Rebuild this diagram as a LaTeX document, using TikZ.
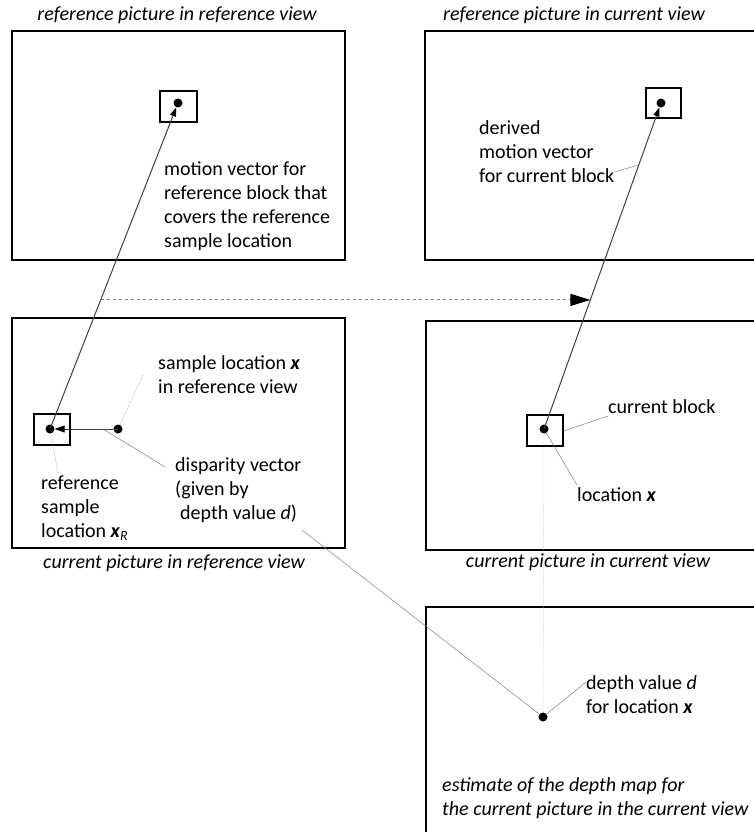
\documentclass[tikz,border=0pt]{standalone}
\usepackage{fontspec}
\setmainfont{Carlito}
\usetikzlibrary{arrows.meta,calc}

\newcommand{\vx}{\textbf{\textit{x}}}

\begin{document}
\begin{tikzpicture}[x=1pt,y=-1pt,font=\fontsize{20}{24}\selectfont]
    \useasboundingbox (0,0) rectangle (753,832);

        % pictures
        \begin{scope}[every node/.style={draw,line width=2pt,inner sep=0pt}]
            \node[minimum width=333,minimum height=229] (refref) at (178.5,145.5) {};
            \node[minimum width=375,minimum height=229] (refcur) at (612.5,145.5) {};
            \node[minimum width=333,minimum height=230] (curref) at (178.5,433) {};
            \node[minimum width=374,minimum height=229] (curcur) at (613,435.5) {};
            \node[minimum width=374,minimum height=293] (depthmap) at (613,753.5) {};
        \end{scope}

        % blocks
        \begin{scope}[every node/.style={draw,line width=1.5pt,inner sep=0pt}]
            \node[minimum width=37,minimum height=31] (refblk) at (178.5,106.5) {};
            \node[minimum width=35,minimum height=30] (derblk) at (663.5,103) {};
            \node[minimum width=36,minimum height=31] (rsblk) at (52,429.5) {};
            \node[minimum width=36,minimum height=31] (curblk) at (545,430.5) {};
        \end{scope}

        % sample locations
        \begin{scope}[every node/.style={circle,fill,inner sep=0pt,minimum size=9}]
            \node (m1) at (178,103) {};
            \node (m2) at (661,103) {};
            \node (xr) at (50,429) {};
            \node (xs) at (118,429) {};
            \node (x) at (544,429) {};
            \node (dd) at (543,717) {};
        \end{scope}

        % captions
        \begin{scope}[every node/.style={font=\fontsize{20}{24}\selectfont\itshape,inner sep=0pt}]
            \node (trr) at (177,15) {reference picture in reference view};
            \node (trc) at (574,15) {reference picture in current view};
            \node (tcr) at (174,563) {current picture in reference view};
            \node (tcc) at (588,562) {current picture in current view};
            \node[anchor=west,align=left] (test) at (442,798) {estimate of the depth map for\\the current picture in the current view};
        \end{scope}

        % labels
        \begin{scope}[every node/.style={anchor=west,align=left,inner sep=0pt}]
            \node (mv) at (164,206) {motion vector for\\reference block that\\covers the reference\\sample location};
            \node (dmv) at (479,152) {derived\\motion vector\\for current block};
            \node (sl) at (158,375) {sample location \vx\\in reference view};
            \node (dv) at (175,490) {disparity vector\\(given by\\\hspace{5pt}depth value \textit{d})};
            \node (rsl) at (41,508) {reference\\sample\\location \vx\textsubscript{\textit{R}}};
            \node (cb) at (608,407) {current block};
            \node (lx) at (577,495) {location \vx};
            \node (dvd) at (586,695) {depth value \textit{d}\\for location \vx};
        \end{scope}

        % vectors
        \begin{scope}[every edge/.style={draw=black!75,line width=1pt}]
            \path [-{Triangle[length=9pt,width=6pt,color=black]}] (xr.center) edge (m1);
            \path [-{Triangle[length=9pt,width=6pt,color=black]}] (x.center) edge (m2);
            \path [-{Triangle[length=10pt,width=7pt,color=black]}] (xs.center) edge (xr);
            \path [-{Triangle[length=20pt,width=12pt,color=black]}] ($(xr)!0.396!(m1)$) edge [draw=gray,dashed] ($(x)!0.396!(m2)$);
        \end{scope}

        % leaders
        \begin{scope}[every edge/.style={draw=gray,line width=0.5pt}]
            \path (dmv.east |- 0,172) edge ($(x)!0.81!(m2)$);
            \path (xs) edge [densely dotted] (143,375);
            \path ($(xs)!0.22!(xr)$) edge (165,467);
            \path (xr) edge [densely dotted] (58,473);
            \path (curblk.east |- 0,431) edge (cb.west |- 0,416);
            \path (x) edge (lx.west |- 0,485);
            \path (x) edge [draw=gray!60,densely dotted] (dd);
            \path (302,530) edge (dd);
            \path (dd) edge (dvd.west |- 0,682);
        \end{scope}

    \end{tikzpicture}
\end{document}
